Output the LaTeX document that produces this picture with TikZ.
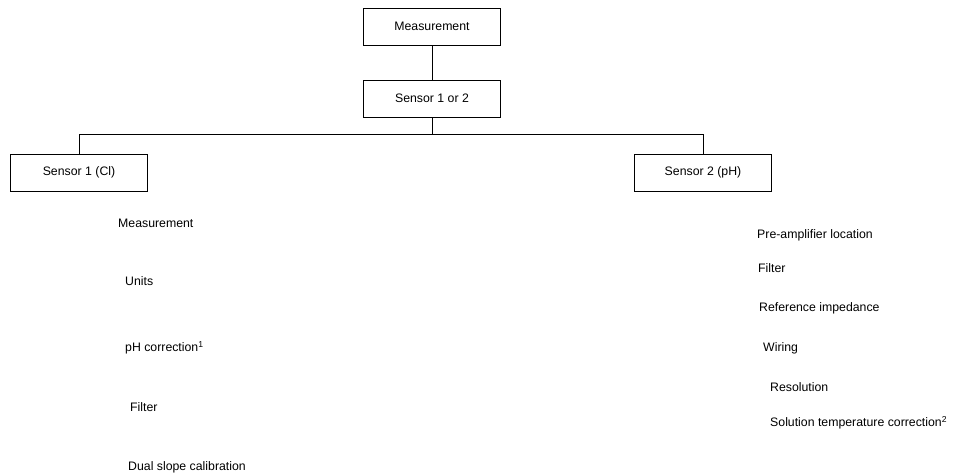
\documentclass[tikz,border=0pt]{standalone}
\usepackage{fontspec}
\setmainfont{Liberation Sans}
\begin{document}
\begin{tikzpicture}[x=1pt,y=-1pt,
  every node/.style={font=\fontsize{12.3}{15}\selectfont},
  box/.style={draw, line width=0.8pt, minimum width=137pt, minimum height=37pt, inner sep=0pt},
  item/.style={anchor=west, inner sep=0pt},
  link/.style={line width=0.8pt}]
\useasboundingbox (0,0) rectangle (955,476);
\node[box] (meas) at (432,26.5) {Measurement};
\node[box] (s12) at (432,98.5) {Sensor 1 or 2};
\node[box] (s1) at (79,172.5) {Sensor 1 (Cl)};
\node[box] (s2) at (703,172.5) {Sensor 2 (pH)};
\coordinate (j) at (432,134);
\draw[link] (meas) -- (s12);
\draw[link] (s12.south) -- (j);
\draw[link] (j) -| (s1.north);
\draw[link] (j) -| (s2.north);
% left items
\node[item] (l1) at (118,223) {Measurement};
\node[item] (l2) at (125,281) {Units};
\node[item] (l3) at (125,348) {pH correction\textsuperscript{1}};
\node[item] (l4) at (130,407) {Filter};
\node[item] (l5) at (128,467) {Dual slope calibration};
% right items
\node[item] (r1) at (757,235) {Pre-amplifier location};
\node[item] (r2) at (758,268) {Filter};
\node[item] (r3) at (759,308) {Reference impedance};
\node[item] (r4) at (763,348) {Wiring};
\node[item] (r5) at (770,387) {Resolution};
\node[item] (r6) at (770,423) {Solution temperature correction\textsuperscript{2}};
\end{tikzpicture}
\end{document}
